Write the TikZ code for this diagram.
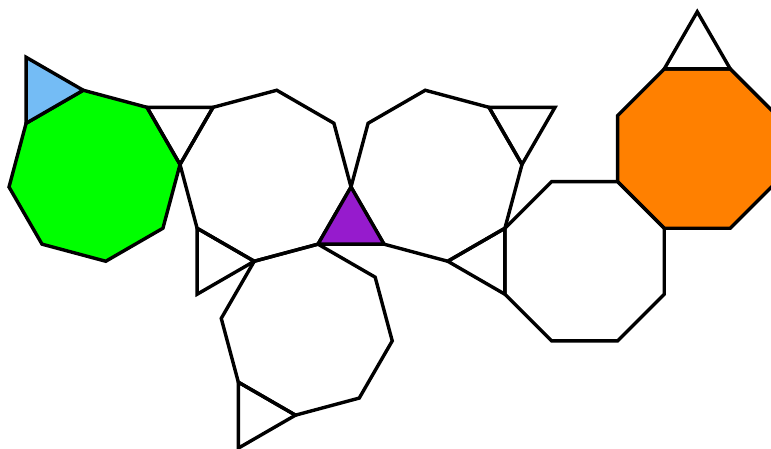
\documentclass[tikz,border=0pt]{standalone}
\begin{document}
\begin{tikzpicture}[x=1pt,y=-1pt,
  edge/.style={draw=black,line width=3.4pt,line join=miter},
  greenfill/.style={fill={rgb,255:red,0;green,255;blue,0}},
  bluefill/.style={fill={rgb,255:red,116;green,188;blue,245}},
  purplefill/.style={fill={rgb,255:red,150;green,27;blue,205}},
  orangefill/.style={fill={rgb,255:red,255;green,128;blue,0}}]
\def\s{66}
\useasboundingbox (0,0) rectangle (771,448);
\clip (0,0) rectangle (771,448);
% shared apex of the purple triangle
\coordinate (P) at (351,187);
% octagon O1 (top middle-left)
\path (P) ++(120:\s) coordinate (a1) ++(165:\s) coordinate (a2) ++(210:\s) coordinate (a3)
  ++(255:\s) coordinate (a4) ++(300:\s) coordinate (a5) ++(345:\s) coordinate (a6) ++(30:\s) coordinate (a7);
% octagon O2 (top middle-right)
\path (P) ++(285:\s) coordinate (b1) ++(330:\s) coordinate (b2) ++(15:\s) coordinate (b3)
  ++(60:\s) coordinate (b4) ++(105:\s) coordinate (b5) ++(150:\s) coordinate (b6) ++(195:\s) coordinate (b7);
% green octagon
\path (a4) ++(105:\s) coordinate (g5) ++(150:\s) coordinate (g6) ++(195:\s) coordinate (g7)
  ++(240:\s) coordinate (g8) ++(285:\s) coordinate (g1) ++(330:\s) coordinate (g2) ++(15:\s) coordinate (g3);
\path (g1) ++(270:\s) coordinate (bt);
% bottom octagon
\path (a1) ++(30:\s) coordinate (c1) ++(75:\s) coordinate (c2) ++(120:\s) coordinate (c3)
  ++(165:\s) coordinate (c4) ++(210:\s) coordinate (c5) ++(255:\s) coordinate (c6);
\path (c5) ++(90:\s) coordinate (t3);
\path (a3) ++(90:\s) coordinate (t2);
\path (b3) ++(0:\s) coordinate (t4);
% octagon O4 (white, axis aligned)
\path (b5) ++(315:\s) coordinate (d1) ++(0:\s) coordinate (d2) ++(45:\s) coordinate (d3)
  ++(90:\s) coordinate (d4) ++(135:\s) coordinate (d5) ++(180:\s) coordinate (d6) ++(225:\s) coordinate (d7);
% orange octagon
\path (d2) ++(270:\s) coordinate (e1) ++(315:\s) coordinate (e2) ++(0:\s) coordinate (e3)
  ++(45:\s) coordinate (e4) ++(90:\s) coordinate (e5) ++(135:\s) coordinate (e6);
\path (e2) ++(300:\s) coordinate (t6);

% filled shapes
\path[edge,greenfill] (a4) -- (g5) -- (g6) -- (g7) -- (g8) -- (g1) -- (g2) -- (g3) -- cycle;
\path[edge,bluefill] (g1) -- (bt) -- (g2) -- cycle;
\path[edge,orangefill] (d2) -- (e1) -- (e2) -- (e3) -- (e4) -- (e5) -- (e6) -- (d3) -- cycle;
% white octagons
\path[edge] (P) -- (a1) -- (a2) -- (a3) -- (a4) -- (a5) -- (a6) -- (a7) -- cycle;
\path[edge] (P) -- (b1) -- (b2) -- (b3) -- (b4) -- (b5) -- (b6) -- (b7) -- cycle;
\path[edge] (a1) -- (c1) -- (c2) -- (c3) -- (c4) -- (c5) -- (c6) -- (a2) -- cycle;
\path[edge] (b5) -- (d1) -- (d2) -- (d3) -- (d4) -- (d5) -- (d6) -- (d7) -- cycle;
% triangles
\path[edge] (g3) -- (a5) -- (a4) -- cycle;
\path[edge] (a3) -- (a2) -- (t2) -- cycle;
\path[edge] (c5) -- (c4) -- (t3) -- cycle;
\path[edge] (b3) -- (t4) -- (b4) -- cycle;
\path[edge] (b5) -- (b6) -- (d7) -- cycle;
\path[edge] (e2) -- (t6) -- (e3) -- cycle;
\path[edge,purplefill] (P) -- (a1) -- (b7) -- cycle;
\end{tikzpicture}
\end{document}
